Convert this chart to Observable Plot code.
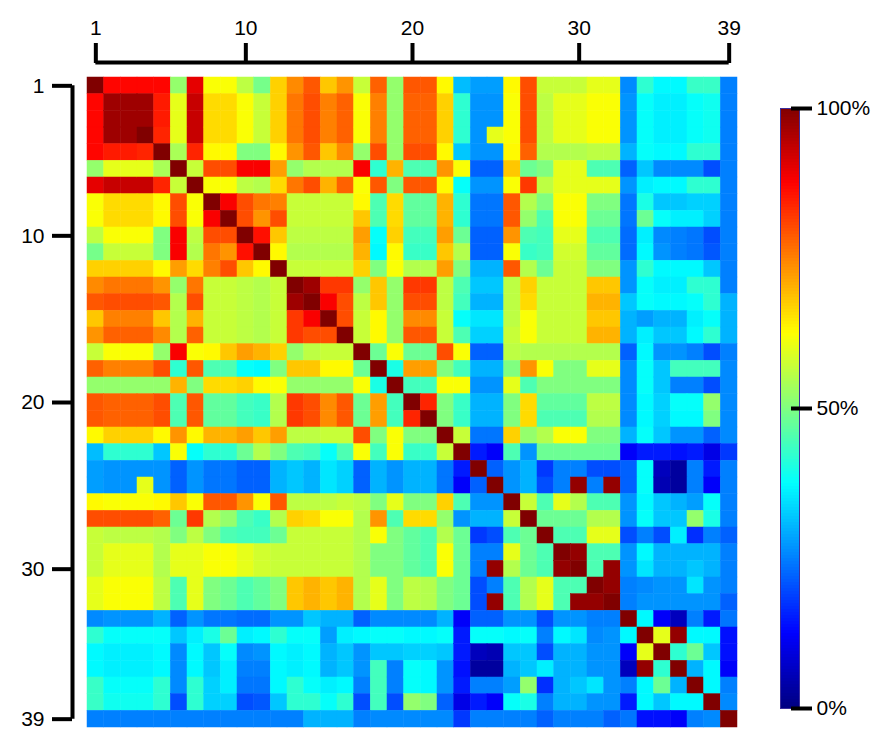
<!DOCTYPE html>
<html>
<head>
<meta charset="utf-8">
<script src="https://cdn.jsdelivr.net/npm/d3@7"></script>
<script src="https://cdn.jsdelivr.net/npm/@observablehq/plot@0.6"></script>
<style>
  html, body { margin: 0; padding: 0; background: #fff; }
  #wrap { position: relative; width: 888px; height: 748px; font-family: "Liberation Sans", Arial, sans-serif; }
  #main { position: absolute; left: 0; top: 0; }
  #bar { position: absolute; left: 760px; top: 0; }
</style>
</head>
<body>
<div id="wrap"><div id="main"></div><div id="bar"></div></div>
<script>
// Upper triangle of the symmetric similarity matrix (%): row k lists columns k..39
const r01 = [100,87,87,87,87,52,90,62,62,56,49,67,74,79,68,73,57,78,52,79,79,63,31,28,28,63,80,57,57,57,60,60,26,42,37,37,43,43,25];
const r02 = [97,97,97,85,60,93,66,66,62,57,67,76,80,75,78,62,75,52,78,78,67,42,27,27,62,80,56,60,60,62,62,27,38,36,36,38,39,25];
const r03 = [97,97,85,60,93,66,66,62,57,67,76,80,75,78,62,75,52,78,78,67,42,27,27,62,80,56,60,60,62,62,27,38,36,36,38,39,25];
const r04 = [100,84,60,93,66,66,62,57,67,76,80,75,78,62,75,52,78,78,67,42,27,60,62,80,56,60,60,62,62,27,38,36,36,38,39,25];
const r05 = [100,54,84,63,63,50,50,63,73,79,68,74,52,80,52,80,80,63,32,27,27,63,78,55,55,55,56,56,30,38,37,37,42,42,25];
const r06 = [100,57,80,80,88,88,72,52,55,55,55,88,42,70,45,45,73,62,22,22,68,48,50,60,60,45,45,22,32,26,26,26,20,25];
const r07 = [100,62,62,56,55,66,76,80,70,78,62,79,50,79,79,63,38,27,27,62,82,56,60,60,60,60,27,36,37,37,42,42,25];
const r08 = [100,88,80,76,75,57,57,57,57,63,45,66,47,47,70,42,24,24,79,55,50,62,62,50,50,24,40,32,32,33,33,25];
const r09 = [100,80,73,80,57,57,57,57,68,45,66,47,47,70,42,24,24,79,52,45,62,62,48,48,24,48,38,36,36,33,25];
const r10 = [100,86,68,56,56,56,56,72,38,67,44,44,72,48,22,22,73,45,44,60,60,45,45,23,36,26,25,24,20,25];
const r11 = [100,63,55,55,55,55,70,37,63,43,43,68,55,22,22,62,43,44,58,58,47,47,23,37,27,25,24,21,25];
const r12 = [100,57,57,57,57,67,50,62,55,55,72,50,30,30,79,55,48,57,57,50,50,27,42,37,37,37,32,25];
const r13 = [100,97,82,82,52,68,52,82,82,56,45,32,32,56,67,57,57,57,68,68,27,38,36,36,42,42,25];
const r14 = [100,88,80,56,68,52,80,80,56,44,30,30,56,66,57,57,57,70,70,32,38,37,37,38,42,30];
const r15 = [100,80,57,63,52,74,74,57,38,35,35,56,62,57,57,57,68,68,30,28,30,30,36,38,30];
const r16 = [100,57,63,52,79,79,57,45,33,33,57,62,57,57,57,70,70,30,36,32,32,37,42,30];
const r17 = [100,48,62,48,48,80,62,22,22,56,55,55,55,55,55,55,22,37,27,27,25,20,25];
const r18 = [100,40,72,72,50,44,30,30,50,73,62,50,50,60,60,26,38,32,44,44,44,26];
const r19 = [100,44,44,62,62,27,27,60,45,50,50,50,50,50,26,38,32,25,25,20,26];
const r20 = [100,84,50,43,30,30,50,66,47,47,47,56,56,26,37,33,38,38,52,26];
const r21 = [100,50,43,30,30,50,66,45,45,45,55,55,26,37,33,37,37,50,26];
const r22 = [100,57,24,24,67,52,55,62,62,50,50,30,38,32,27,27,22,26];
const r23 = [100,15,12,45,27,48,48,48,48,48,12,15,15,14,15,10,18];
const r24 = [100,22,27,30,18,25,25,20,20,22,38,6,3,25,15,25];
const r25 = [100,27,30,20,25,98,25,98,22,38,5,3,25,12,25];
const r26 = [100,57,45,60,55,45,45,27,37,32,30,28,38,25];
const r27 = [100,48,48,48,55,55,27,38,32,32,52,40,25];
const r28 = [100,45,45,60,60,20,25,20,36,17,25,22];
const r29 = [100,98,45,45,27,37,30,30,30,30,25];
const r30 = [100,45,98,27,35,30,30,32,30,25];
const r31 = [100,98,25,26,27,27,35,27,25];
const r32 = [100,25,27,27,27,27,27,22];
const r33 = [100,37,12,6,25,15,24];
const r34 = [100,60,98,37,37,14];
const r35 = [100,42,48,32,14];
const r36 = [100,30,37,12];
const r37 = [100,37,25];
const r38 = [100,26];
const r39 = [100];

const upperRows = [r01,r02,r03,r04,r05,r06,r07,r08,r09,r10,r11,r12,r13,r14,r15,r16,r17,r18,r19,r20,
                   r21,r22,r23,r24,r25,r26,r27,r28,r29,r30,r31,r32,r33,r34,r35,r36,r37,r38,r39];
const axisTicks = [1, 10, 20, 30, 39];
const colorTicks = [0, 50, 100];

// MATLAB "jet" colormap stops
const jetDomain = [0, 12.5, 25, 37.5, 50, 62.5, 75, 87.5, 100];
const jetColors = ["#000080","#0000ff","#0080ff","#00ffff","#80ff80","#ffff00","#ff8000","#ff0000","#800000"];

const n = upperRows.length;
const cells = [];
upperRows.forEach((row, k) => {
  row.forEach((v, m) => {
    const i = k + 1, j = k + 1 + m;
    cells.push({i, j, v});
    if (i !== j) cells.push({i: j, j: i, v});
  });
});

const colorScale = {type: "linear", domain: jetDomain, range: jetColors, interpolate: "rgb"};
const font = "'Liberation Sans', Arial, sans-serif";

const main = Plot.plot({
  width: 770, height: 748,
  marginLeft: 87, marginTop: 77, marginRight: 33, marginBottom: 21,
  style: {fontFamily: font, background: "transparent"},
  x: {type: "linear", domain: [0.5, n + 0.5], axis: null},
  y: {type: "linear", domain: [0.5, n + 0.5], reverse: true, axis: null},
  color: colorScale,
  marks: [
    Plot.rect(cells, {
      x1: d => d.j - 0.5, x2: d => d.j + 0.5,
      y1: d => d.i - 0.5, y2: d => d.i + 0.5,
      fill: "v", stroke: "v", strokeWidth: 0.5
    }),
    // top axis
    Plot.ruleY([0.5], {x1: () => axisTicks[0], x2: () => axisTicks[axisTicks.length - 1], stroke: "black", strokeWidth: 4, dy: -15}),
    Plot.axisX(axisTicks, {anchor: "top", tickSize: 20, tickPadding: 8, strokeWidth: 4, fontSize: 21, dy: -15, fill: "black"}),
    // left axis
    Plot.ruleX([0.5], {y1: () => axisTicks[0], y2: () => axisTicks[axisTicks.length - 1], stroke: "black", strokeWidth: 4, dx: -15}),
    Plot.axisY(axisTicks, {anchor: "left", tickSize: 20, tickPadding: 8, strokeWidth: 4, fontSize: 21, dx: -15, fill: "black"})
  ]
});
document.getElementById("main").appendChild(main);

const levels = d3.range(0, 100, 0.5);
const bar = Plot.plot({
  width: 128, height: 748,
  marginLeft: 20, marginRight: 89, marginTop: 108, marginBottom: 40,
  style: {fontFamily: font, background: "transparent"},
  y: {type: "linear", domain: [0, 100], axis: null},
  color: colorScale,
  marks: [
    Plot.rect(levels, {y1: d => d, y2: d => d + 0.5, fill: d => d + 0.25}),
    Plot.frame({stroke: "#3b2e9c", strokeWidth: 1}),
    Plot.axisY(colorTicks, {anchor: "right", tickSize: 21, tickPadding: 5, strokeWidth: 4, fontSize: 21, dx: -9, tickFormat: d => d + "%", fill: "black"})
  ]
});
document.getElementById("bar").appendChild(bar);
</script>
</body>
</html>
